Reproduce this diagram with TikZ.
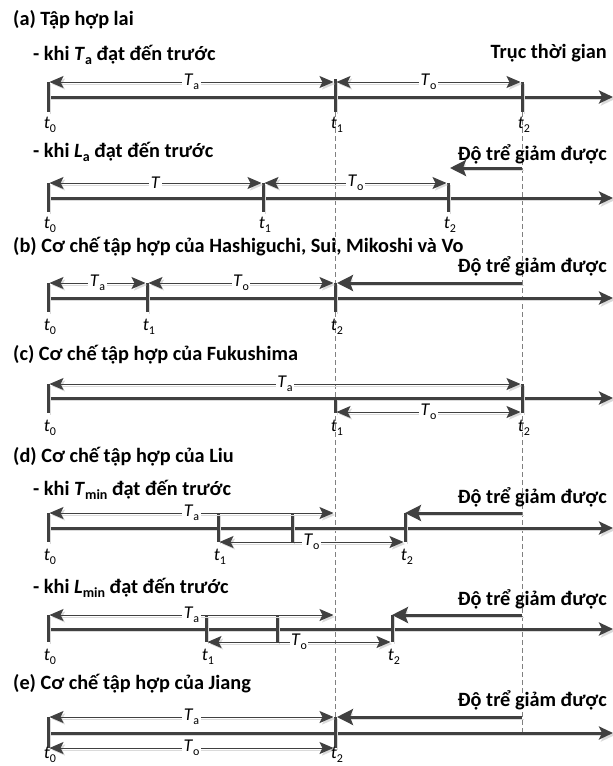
\documentclass[tikz,border=0pt]{standalone}
\usepackage{fontspec}
\setmainfont{Carlito}
\usetikzlibrary{arrows.meta}
\definecolor{lc}{HTML}{404040}
\definecolor{dc}{HTML}{808080}
\definecolor{sc}{HTML}{DADADA}
\newcommand{\tsub}[2]{\textit{#1}\raisebox{-0.22em}{\fontsize{12}{12}\selectfont\upshape #2}}
\newcommand{\hsub}[2]{\textit{#1}\raisebox{-0.2em}{\fontsize{14}{14}\selectfont\upshape #2}}
\tikzset{
  shad/.style={preaction={draw=sc, transform canvas={shift={(2pt,-2pt)}}}},
  axisline/.style={shad, draw=lc, line width=3pt, -{Stealth[length=14pt,width=13pt,inset=3pt]}},
  tickline/.style={shad, draw=lc, line width=3pt},
  dimline/.style={shad, draw=lc, line width=0.9pt, {Stealth[length=14pt,width=12pt,inset=3pt]}-{Stealth[length=14pt,width=12pt,inset=3pt]}, shorten <=1.5pt, shorten >=1.5pt},
  delayline/.style={shad, draw=lc, line width=3pt, -{Stealth[length=16pt,width=16pt,inset=3pt]}},
  guide/.style={draw=dc, line width=0.8pt, dash pattern=on 5pt off 3pt},
  head/.style={anchor=base west, inner sep=0pt, font=\fontsize{20.3}{24}\selectfont\bfseries},
  rhead/.style={anchor=base east, inner sep=0pt, font=\fontsize{20.3}{24}\selectfont\bfseries},
  dimlabel/.style={fill=white, inner sep=1.5pt, font=\fontsize{18}{20}\selectfont},
  tlabel/.style={inner sep=0pt, font=\fontsize{18}{20}\selectfont},
}
\begin{document}
\begin{tikzpicture}[x=1pt,y=-1pt]
\useasboundingbox (0,0) rectangle (613,766);
% dashed guides
\coordinate (g1t) at (335,112); \coordinate (g1b) at (335,717);
\coordinate (g2t) at (522,112); \coordinate (g2b) at (522,733);
\draw[guide] (g1t) -- (g1b);
\draw[guide] (g2t) -- (g2b);

% ---------------- (a)
\node[head] (ha) at (13,25) {(a) Tập hợp lai};
\node[head] (ha1) at (33,60) {- khi \hsub{T}{a} đạt đến trước};
\node[rhead] (hax) at (607,58) {Trục thời gian};
% row a1
\coordinate (a1s) at (48,97); \coordinate (a1e) at (613,97);
\coordinate (a1t0u) at (48,82);  \coordinate (a1t0d) at (48,112);
\coordinate (a1t1u) at (335,79); \coordinate (a1t1d) at (335,112);
\coordinate (a1t2u) at (522,82); \coordinate (a1t2d) at (522,112);
\coordinate (a1p0) at (48,82); \coordinate (a1p1) at (335,82); \coordinate (a1p2) at (522,82);
\draw[axisline] (a1s) -- (a1e);
\draw[tickline] (a1t0u) -- (a1t0d);
\draw[tickline] (a1t1u) -- (a1t1d);
\draw[tickline] (a1t2u) -- (a1t2d);
\draw[dimline] (a1p0) -- node[dimlabel] (a1Ta) {\tsub{T}{a}} (a1p1);
\draw[dimline] (a1p1) -- node[dimlabel] (a1To) {\tsub{T}{o}} (a1p2);
\node[tlabel] (a1l0) at (50,125) {\tsub{t}{0}};
\node[tlabel] (a1l1) at (337,125) {\tsub{t}{1}};
\node[tlabel] (a1l2) at (524,125) {\tsub{t}{2}};

% row a2
\node[head] (ha2) at (33,157) {- khi \hsub{L}{a} đạt đến trước};
\node[rhead] (da2) at (607,160) {Độ trể giảm được};
\coordinate (a2ds) at (522,168); \coordinate (a2de) at (450,168);
\draw[delayline] (a2ds) -- (a2de);
\coordinate (a2s) at (48,198); \coordinate (a2e) at (613,198);
\coordinate (a2t0u) at (48,183);  \coordinate (a2t0d) at (48,212);
\coordinate (a2t1u) at (263,183); \coordinate (a2t1d) at (263,212);
\coordinate (a2t2u) at (448,183); \coordinate (a2t2d) at (448,212);
\draw[axisline] (a2s) -- (a2e);
\draw[tickline] (a2t0u) -- (a2t0d);
\draw[tickline] (a2t1u) -- (a2t1d);
\draw[tickline] (a2t2u) -- (a2t2d);
\draw[dimline] (a2t0u) -- node[dimlabel] (a2T) {\textit{T}} (a2t1u);
\draw[dimline] (a2t1u) -- node[dimlabel] (a2To) {\tsub{T}{o}} (a2t2u);
\node[tlabel] (a2l0) at (50,225) {\tsub{t}{0}};
\node[tlabel] (a2l1) at (265,225) {\tsub{t}{1}};
\node[tlabel] (a2l2) at (450,225) {\tsub{t}{2}};

% ---------------- (b)
\node[head] (hb) at (13,252) {(b) Cơ chế tập hợp của Hashiguchi, Sui, Mikoshi và Vo};
\node[rhead] (db) at (607,272) {Độ trể giảm được};
\coordinate (bds) at (522,283); \coordinate (bde) at (337,283);
\draw[delayline] (bds) -- (bde);
\coordinate (bs) at (48,298); \coordinate (be) at (613,298);
\coordinate (bt0u) at (48,283);  \coordinate (bt0d) at (48,312);
\coordinate (bt1u) at (147,283); \coordinate (bt1d) at (147,312);
\coordinate (bt2u) at (335,283); \coordinate (bt2d) at (335,312);
\draw[axisline] (bs) -- (be);
\draw[tickline] (bt0u) -- (bt0d);
\draw[tickline] (bt1u) -- (bt1d);
\draw[tickline] (bt2u) -- (bt2d);
\draw[dimline] (bt0u) -- node[dimlabel] (bTa) {\tsub{T}{a}} (bt1u);
\draw[dimline] (bt1u) -- node[dimlabel] (bTo) {\tsub{T}{o}} (bt2u);
\node[tlabel] (bl0) at (50,327) {\tsub{t}{0}};
\node[tlabel] (bl1) at (149,327) {\tsub{t}{1}};
\node[tlabel] (bl2) at (337,327) {\tsub{t}{2}};

% ---------------- (c)
\node[head] (hc) at (13,360) {(c) Cơ chế tập hợp của Fukushima};
\coordinate (cs) at (48,398); \coordinate (ce) at (613,398);
\coordinate (ct0u) at (48,384);  \coordinate (ct0d) at (48,413);
\coordinate (ct1u) at (335,398); \coordinate (ct1d) at (335,413);
\coordinate (ct2u) at (522,384); \coordinate (ct2d) at (522,413);
\coordinate (cq1) at (335,412); \coordinate (cq2) at (522,412);
\draw[axisline] (cs) -- (ce);
\draw[tickline] (ct0u) -- (ct0d);
\draw[tickline] (ct1u) -- (ct1d);
\draw[tickline] (ct2u) -- (ct2d);
\draw[dimline] (ct0u) -- node[dimlabel] (cTa) {\tsub{T}{a}} (ct2u);
\draw[dimline] (cq1) -- node[dimlabel] (cTo) {\tsub{T}{o}} (cq2);
\node[tlabel] (cl0) at (50,428) {\tsub{t}{0}};
\node[tlabel] (cl1) at (337,428) {\tsub{t}{1}};
\node[tlabel] (cl2) at (524,428) {\tsub{t}{2}};

% ---------------- (d)
\node[head] (hd) at (13,462) {(d) Cơ chế tập hợp của Liu};
\node[head] (hd1) at (33,495) {- khi \hsub{T}{min} đạt đến trước};
\node[rhead] (dd1) at (607,503) {Độ trể giảm được};
\coordinate (d1s) at (48,528); \coordinate (d1e) at (613,528);
\coordinate (d1t0u) at (48,513);  \coordinate (d1t0d) at (48,542);
\coordinate (d1t1u) at (218,513); \coordinate (d1t1d) at (218,542);
\coordinate (d1mu) at (292,513);  \coordinate (d1md) at (292,542);
\coordinate (d1t2u) at (405,513); \coordinate (d1t2d) at (405,542);
\coordinate (d1p) at (335,513);
\coordinate (d1ds) at (522,513);
\draw[axisline] (d1s) -- (d1e);
\draw[tickline] (d1t0u) -- (d1t0d);
\draw[tickline] (d1t1u) -- (d1t1d);
\draw[tickline] (d1mu) -- (d1md);
\draw[tickline] (d1t2u) -- (d1t2d);
\draw[delayline] (d1ds) -- (d1t2u);
\draw[dimline] (d1t0u) -- node[dimlabel] (d1Ta) {\tsub{T}{a}} (d1p);
\draw[dimline] (d1t1d) -- node[dimlabel] (d1To) {\tsub{T}{o}} (d1t2d);
\node[tlabel] (d1l0) at (50,557) {\tsub{t}{0}};
\node[tlabel] (d1l1) at (220,557) {\tsub{t}{1}};
\node[tlabel] (d1l2) at (407,557) {\tsub{t}{2}};

\node[head] (hd2) at (33,593) {- khi \hsub{L}{min} đạt đến trước};
\node[rhead] (dd2) at (607,605) {Độ trể giảm được};
\coordinate (d2s) at (48,629); \coordinate (d2e) at (613,629);
\coordinate (d2t0u) at (48,615);  \coordinate (d2t0d) at (48,642);
\coordinate (d2t1u) at (206,615); \coordinate (d2t1d) at (206,642);
\coordinate (d2mu) at (277,615);  \coordinate (d2md) at (277,642);
\coordinate (d2t2u) at (392,615); \coordinate (d2t2d) at (392,642);
\coordinate (d2p) at (335,615);
\coordinate (d2ds) at (522,615);
\draw[axisline] (d2s) -- (d2e);
\draw[tickline] (d2t0u) -- (d2t0d);
\draw[tickline] (d2t1u) -- (d2t1d);
\draw[tickline] (d2mu) -- (d2md);
\draw[tickline] (d2t2u) -- (d2t2d);
\draw[delayline] (d2ds) -- (d2t2u);
\draw[dimline] (d2t0u) -- node[dimlabel] (d2Ta) {\tsub{T}{a}} (d2p);
\draw[dimline] (d2t1d) -- node[dimlabel] (d2To) {\tsub{T}{o}} (d2t2d);
\node[tlabel] (d2l0) at (50,657) {\tsub{t}{0}};
\node[tlabel] (d2l1) at (208,657) {\tsub{t}{1}};
\node[tlabel] (d2l2) at (394,657) {\tsub{t}{2}};

% ---------------- (e)
\node[head] (he) at (13,689) {(e) Cơ chế tập hợp của Jiang};
\node[rhead] (de) at (607,706) {Độ trể giảm được};
\coordinate (es) at (48,733); \coordinate (ee) at (613,733);
\coordinate (et0u) at (48,717);  \coordinate (et0d) at (48,748);
\coordinate (et2u) at (335,717); \coordinate (et2d) at (335,748);
\coordinate (eds) at (522,717); \coordinate (ede) at (337,717);
\draw[axisline] (es) -- (ee);
\draw[tickline] (et0u) -- (et0d);
\draw[tickline] (et2u) -- (et2d);
\draw[delayline] (eds) -- (ede);
\draw[dimline] (et0u) -- node[dimlabel] (eTa) {\tsub{T}{a}} (et2u);
\draw[dimline] (et0d) -- node[dimlabel] (eTo) {\tsub{T}{o}} (et2d);
\node[tlabel] (el0) at (50,755) {\tsub{t}{0}};
\node[tlabel] (el2) at (337,755) {\tsub{t}{2}};
\end{tikzpicture}
\end{document}
